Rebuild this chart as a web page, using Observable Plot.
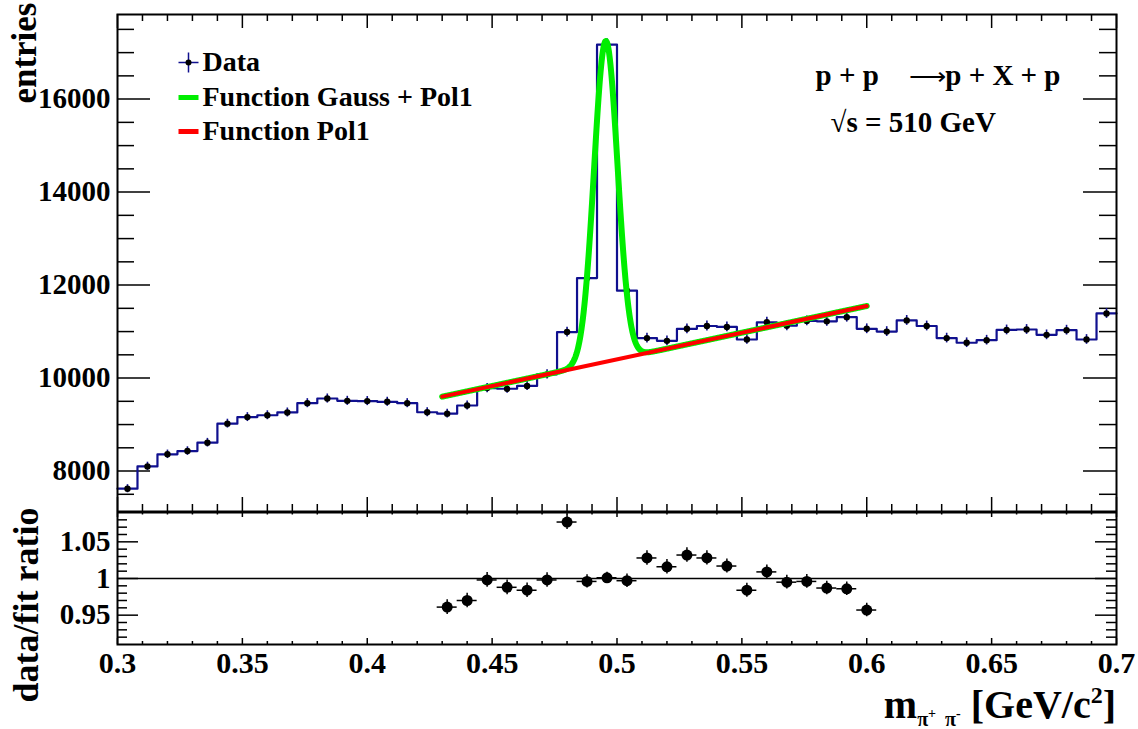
<!DOCTYPE html>
<html>
<head>
<meta charset="utf-8">
<script src="https://cdn.jsdelivr.net/npm/d3@7"></script>
<script src="https://cdn.jsdelivr.net/npm/@observablehq/plot@0.6"></script>
<style>
  html, body { margin: 0; padding: 0; background: #fff; }
  #chart { position: relative; width: 1138px; height: 729px; overflow: hidden; }
  #chart svg { position: absolute; left: 0; background: transparent; }
</style>
</head>
<body>
<div id="chart"></div>
<script>
// Invariant mass histogram, pi+ pi- pairs (bin centres in GeV/c^2)
const massBins = [
  0.304, 0.312, 0.320, 0.328, 0.336, 0.344, 0.352, 0.360, 0.368, 0.376,
  0.384, 0.392, 0.400, 0.408, 0.416, 0.424, 0.432, 0.440, 0.448, 0.456,
  0.464, 0.472, 0.480, 0.488, 0.496, 0.504, 0.512, 0.520, 0.528, 0.536,
  0.544, 0.552, 0.560, 0.568, 0.576, 0.584, 0.592, 0.600, 0.608, 0.616,
  0.624, 0.632, 0.640, 0.648, 0.656, 0.664, 0.672, 0.680, 0.688, 0.696
];
const entries = [
  7620, 8100, 8360, 8430, 8610, 9020, 9160, 9200, 9260, 9460,
  9560, 9510, 9505, 9490, 9460, 9265, 9235, 9410, 9785, 9770,
  9830, 10080, 10990, 12150, 17170, 11880, 10860, 10800, 11060, 11120,
  11100, 10830, 11200, 11125, 11230, 11220, 11310, 11060, 11000, 11240,
  11120, 10860, 10760, 10815, 11035, 11045, 10930, 11030, 10830, 11390
];
const binWidth = 0.008;

// data / fit ratio inside the fit window
const ratioMass = [
  0.432, 0.440, 0.448, 0.456, 0.464, 0.472, 0.480, 0.488, 0.496, 0.504, 0.512,
  0.520, 0.528, 0.536, 0.544, 0.552, 0.560, 0.568, 0.576, 0.584, 0.592, 0.600
];
const ratioValues = [
  0.961, 0.970, 0.998, 0.988, 0.984, 0.998, 1.077, 0.996, 1.001, 0.997, 1.028,
  1.016, 1.032, 1.028, 1.017, 0.984, 1.009, 0.995, 0.996, 0.987, 0.986, 0.957
];

// Fit: Gauss + Pol1 over [fitLow, fitHigh]
const fitLow = 0.43, fitHigh = 0.60;
const pol1P0 = 4668, pol1P1 = 11470;
const gaussAmp = 6900, gaussMean = 0.4955, gaussSigma = 0.0047;

// Axis ticks and labels
const xMajor = [0.3, 0.35, 0.4, 0.45, 0.5, 0.55, 0.6, 0.65, 0.7];
const xLabels = ["0.3", "0.35", "0.4", "0.45", "0.5", "0.55", "0.6", "0.65", "0.7"];
const yMajor = [8000, 10000, 12000, 14000, 16000];
const yLabels = ["8000", "10000", "12000", "14000", "16000"];
const rMajor = [0.95, 1, 1.05];
const rLabels = ["0.95", "1", "1.05"];

const xMinor = d3.range(30, 71).map(d => d / 100).filter(v => !xMajor.some(m => Math.abs(m - v) < 1e-9));
const yMinor = d3.range(7500, 17501, 500).filter(v => v % 2000 !== 0);
const rMinor = d3.range(92, 109).map(d => d / 100).filter(v => !rMajor.some(m => Math.abs(m - v) < 1e-9));

const navy = "#10108f";
const serif = "'Liberation Serif', 'Times New Roman', serif";
const font = {fontFamily: serif, fontWeight: "bold", fontSize: "28px", background: "transparent", color: "black"};

// histogram outline
const steps = massBins.map((m, i) => ({x: m - binWidth / 2, y: entries[i]}));
steps.push({x: massBins[massBins.length - 1] + binWidth / 2, y: entries[entries.length - 1]});
const points = massBins.map((m, i) => ({x: m, y: entries[i], e: Math.sqrt(entries[i])}));

// fit functions sampled over the fit window
const pol1 = x => pol1P0 + pol1P1 * x;
const gaussPol1 = x => pol1(x) + gaussAmp * Math.exp(-0.5 * ((x - gaussMean) / gaussSigma) ** 2);
const fitX = d3.range(fitLow, fitHigh + 1e-9, 0.0002);
const fitCurve = fitX.map(x => ({x, y: gaussPol1(x)}));
const polCurve = [fitLow, fitHigh].map(x => ({x, y: pol1(x)}));

// legend symbols
const crossSym = {draw(c) { c.moveTo(-10, 0); c.lineTo(10, 0); c.moveTo(0, -10); c.lineTo(0, 10); }};
const barSym = {draw(c) { c.rect(-10, -2.5, 20, 5); }};

const W = 1138;
const topH = 512, topMT = 14, topMB = 1, mL = 117, mR = 22;
const plotW = W - mL - mR, topPH = topH - topMT - topMB;

function frameTicks(xMaj, xMin, yMaj, yMin, pw, ph, tl) {
  return [
    Plot.ruleX(xMaj, {x: d => d, insetTop: ph - tl.xb[0], strokeWidth: 1.5}),
    Plot.ruleX(xMin, {x: d => d, insetTop: ph - tl.xb[1], strokeWidth: 1.5}),
    Plot.ruleX(xMaj, {x: d => d, insetBottom: ph - tl.xt[0], strokeWidth: 1.5}),
    Plot.ruleX(xMin, {x: d => d, insetBottom: ph - tl.xt[1], strokeWidth: 1.5}),
    Plot.ruleY(yMaj, {y: d => d, insetRight: pw - tl.y[0], strokeWidth: 1.5}),
    Plot.ruleY(yMin, {y: d => d, insetRight: pw - tl.y[1], strokeWidth: 1.5}),
    Plot.ruleY(yMaj, {y: d => d, insetLeft: pw - tl.y[0], strokeWidth: 1.5}),
    Plot.ruleY(yMin, {y: d => d, insetLeft: pw - tl.y[1], strokeWidth: 1.5})
  ];
}

const topPlot = Plot.plot({
  width: W, height: topH,
  marginLeft: mL, marginRight: mR, marginTop: topMT, marginBottom: topMB,
  x: {domain: [0.3, 0.7], axis: null},
  y: {domain: [7130, 17820]},
  style: font,
  marks: [
    Plot.axisY(yMajor, {tickSize: 0, tickPadding: 7, tickFormat: (d, i) => yLabels[i], label: null, fontSize: 29}),
    ...frameTicks(xMajor, xMinor, yMajor, yMinor, plotW, topPH, {xb: [14, 7], xt: [14, 7], y: [33, 17]}),
    // histogram
    Plot.line(steps, {x: "x", y: "y", curve: "step-after", stroke: navy, strokeWidth: 2.2}),
    // data points with errors
    Plot.ruleX(points, {x: "x", y1: d => d.y - d.e, y2: d => d.y + d.e, stroke: navy, strokeWidth: 1.6}),
    Plot.dot(points, {x: "x", y: "y", r: 3.2, fill: "black"}),
    // fits
    Plot.line(fitCurve, {x: "x", y: "y", stroke: "#00ee00", strokeWidth: 6}),
    Plot.line(polCurve, {x: "x", y: "y", stroke: "#ff0000", strokeWidth: 4}),
    Plot.frame({stroke: "black", strokeWidth: 2}),
    // legend
    Plot.dot([0], {frameAnchor: "top-left", dx: 71, dy: 48, symbol: crossSym, stroke: navy, fill: "none", strokeWidth: 1.5}),
    Plot.dot([0], {frameAnchor: "top-left", dx: 71, dy: 48, r: 3, fill: "black"}),
    Plot.dot([0], {frameAnchor: "top-left", dx: 71, dy: 83, symbol: barSym, fill: "#00ee00", stroke: "none"}),
    Plot.dot([0], {frameAnchor: "top-left", dx: 71, dy: 117, symbol: barSym, fill: "#ff0000", stroke: "none"}),
    Plot.text(["Data"], {frameAnchor: "top-left", dx: 85, dy: 48, textAnchor: "start", lineAnchor: "middle"}),
    Plot.text(["Function Gauss + Pol1"], {frameAnchor: "top-left", dx: 85, dy: 83, textAnchor: "start", lineAnchor: "middle"}),
    Plot.text(["Function Pol1"], {frameAnchor: "top-left", dx: 85, dy: 117, textAnchor: "start", lineAnchor: "middle"}),
    // reaction and energy
    Plot.text(["p + p"], {frameAnchor: "top-left", dx: 698, dy: 61, textAnchor: "start", lineAnchor: "middle", fontSize: 29}),
    Plot.text(["\u27F6"], {frameAnchor: "top-left", dx: 828, dy: 62, textAnchor: "end", lineAnchor: "middle", fontSize: 26, fontWeight: "normal"}),
    Plot.text(["p + X + p"], {frameAnchor: "top-left", dx: 943, textAnchor: "end", dy: 61, lineAnchor: "middle", fontSize: 29}),
    Plot.text(["\u221As = 510 GeV"], {frameAnchor: "top-left", dx: 713, dy: 108, textAnchor: "start", lineAnchor: "middle", fontSize: 29}),
    // y title
    Plot.text(["entries"], {frameAnchor: "top-left", dx: -93, dy: -12, rotate: -90, textAnchor: "end", lineAnchor: "middle", fontSize: 35})
  ]
});
topPlot.style.top = "0px";

// ratio panel
const botTop = 505, botH = 224, botMT = 7, botMB = 85;
const botPH = botH - botMT - botMB;
const ratioPts = ratioMass.map((m, i) => {
  const k = massBins.findIndex(b => Math.abs(b - m) < 1e-6);
  const n = entries[k];
  return {x: m, y: ratioValues[i], e: ratioValues[i] / Math.sqrt(n)};
});

const botPlot = Plot.plot({
  width: W, height: botH,
  marginLeft: mL, marginRight: mR, marginTop: botMT, marginBottom: botMB,
  x: {domain: [0.3, 0.7]},
  y: {domain: [0.91, 1.09]},
  style: font,
  marks: [
    Plot.axisY(rMajor, {tickSize: 0, tickPadding: 7, tickFormat: (d, i) => rLabels[i], label: null, fontSize: 29}),
    Plot.axisX(xMajor, {tickSize: 0, tickPadding: 7, tickFormat: (d, i) => xLabels[i], label: null, fontSize: 30}),
    ...frameTicks(xMajor, xMinor, rMajor, rMinor, plotW, botPH, {xb: [6, 3], xt: [5, 2.5], y: [21, 10]}),
    Plot.ruleY([1], {stroke: "black", strokeWidth: 1.5}),
    Plot.ruleY(ratioPts, {y: "y", x1: d => d.x - binWidth / 2, x2: d => d.x + binWidth / 2, stroke: "black", strokeWidth: 1.5}),
    Plot.ruleX(ratioPts, {x: "x", y1: d => d.y - d.e, y2: d => d.y + d.e, stroke: "black", strokeWidth: 1.5}),
    Plot.dot(ratioPts, {x: "x", y: "y", r: 5.5, fill: "black"}),
    Plot.frame({stroke: "black", strokeWidth: 2}),
    Plot.text(["data/fit ratio"], {frameAnchor: "top-left", dx: -91, dy: -5, rotate: -90, textAnchor: "end", lineAnchor: "middle", fontSize: 36})
  ]
});
botPlot.style.top = botTop + "px";

// x-axis title with sub- and superscripts
const title = d3.select(botPlot).append("text")
  .attr("x", W - mR).attr("y", 213)
  .attr("text-anchor", "end")
  .attr("font-size", 40).attr("font-weight", "bold")
  .attr("font-family", serif)
  .attr("fill", "black");
title.append("tspan").text("m");
title.append("tspan").attr("font-size", 20).attr("dy", 8).text("\u03C0");
title.append("tspan").attr("font-size", 14).attr("dy", -8).text("+");
title.append("tspan").attr("font-size", 20).attr("dy", 8).text("\u2009 \u03C0");
title.append("tspan").attr("font-size", 14).attr("dy", -8).text("-");
title.append("tspan").attr("dy", 0).text(" [GeV/c");
title.append("tspan").attr("font-size", 24).attr("dy", -15).text("2");
title.append("tspan").attr("dy", 15).text("]");

document.getElementById("chart").append(topPlot, botPlot);
</script>
</body>
</html>
